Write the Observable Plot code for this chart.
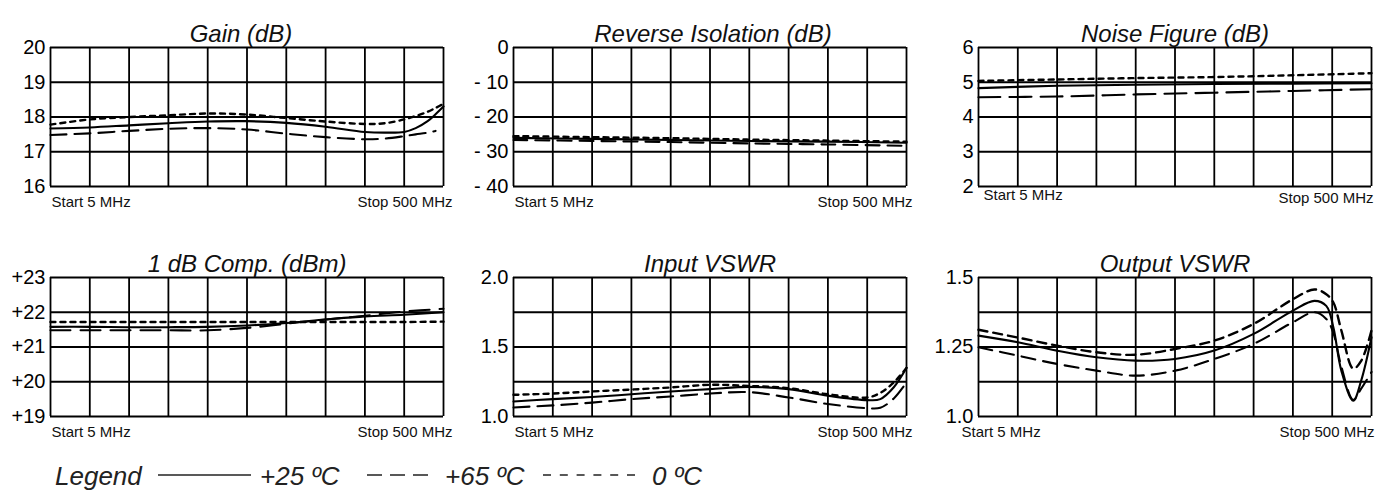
<!DOCTYPE html>
<html><head><meta charset="utf-8">
<script src="https://cdn.jsdelivr.net/npm/d3@7"></script>
<script src="https://cdn.jsdelivr.net/npm/@observablehq/plot@0.6"></script>
<style>
body{margin:0;background:#fff;width:1389px;height:491px;position:relative;overflow:hidden;font-family:"Liberation Sans",Arial,sans-serif;}
.panel{position:absolute;}
</style></head><body>
<script>
// ---------- DATA ----------
const gridFreqs = [5, 54.5, 104, 153.5, 203, 252.5, 302, 351.5, 401, 450.5, 500];

// Gain (dB)
const gainFreq = [5, 54.5, 104, 153.5, 203, 252.5, 302, 351.5, 401, 426, 450.5, 465, 480, 490, 500];
const gain25 = [17.67, 17.70, 17.76, 17.82, 17.87, 17.88, 17.83, 17.72, 17.57, 17.55, 17.57, 17.68, 17.88, 18.08, 18.30];
const gain0  = [17.78, 17.93, 18.00, 18.05, 18.10, 18.07, 17.97, 17.87, 17.80, 17.82, 17.93, 18.03, 18.15, 18.26, 18.38];
const gain65 = [17.48, 17.53, 17.60, 17.66, 17.68, 17.64, 17.52, 17.42, 17.36, 17.38, 17.45, 17.50, 17.55, 17.60, null];
const gainTicks = [16, 17, 18, 19, 20];

// Reverse Isolation (dB)
const isoFreq = [5, 104, 203, 302, 401, 500];
const iso25 = [-26.0, -26.3, -26.6, -26.9, -27.1, -27.4];
const iso0  = [-25.5, -25.8, -26.1, -26.5, -26.8, -27.1];
const iso65 = [-26.6, -26.9, -27.2, -27.6, -27.9, -28.3];
const isoTicks = [-40, -30, -20, -10, 0];
const isoLabels = ["- 40", "- 30", "- 20", "- 10", "0"];

// Noise Figure (dB)
const nfFreq = [5, 104, 203, 302, 401, 500];
const nf25 = [4.83, 4.90, 4.93, 4.95, 4.96, 4.97];
const nf0  = [5.04, 5.08, 5.12, 5.15, 5.20, 5.26];
const nf65 = [4.57, 4.59, 4.65, 4.70, 4.75, 4.80];
const nfTicks = [2, 3, 4, 5, 6];

// 1 dB Comp. (dBm)
const compFreq = [5, 54.5, 104, 153.5, 203, 252.5, 302, 351.5, 401, 450.5, 500];
const comp25 = [21.58, 21.58, 21.57, 21.57, 21.58, 21.62, 21.69, 21.79, 21.88, 21.93, 22.00];
const comp0  = [21.72, 21.72, 21.72, 21.72, 21.72, 21.72, 21.72, 21.72, 21.72, 21.72, 21.73];
const comp65 = [21.48, 21.48, 21.48, 21.48, 21.48, 21.55, 21.67, 21.79, 21.90, 22.02, 22.10];
const compTicks = [19, 20, 21, 22, 23];
const compLabels = ["+19", "+20", "+21", "+22", "+23"];

// Input VSWR
const inFreq = [5, 54.5, 104, 153.5, 203, 252.5, 302, 351.5, 401, 450.5, 467, 484, 500];
const in25 = [1.108, 1.125, 1.140, 1.160, 1.180, 1.197, 1.213, 1.197, 1.150, 1.118, 1.125, 1.210, 1.350];
const in0  = [1.156, 1.165, 1.180, 1.194, 1.209, 1.228, 1.220, 1.204, 1.160, 1.137, 1.170, 1.245, 1.350];
const in65 = [1.065, 1.080, 1.100, 1.125, 1.144, 1.165, 1.175, 1.137, 1.090, 1.060, 1.063, 1.130, 1.245];
const inGrid = [1.0, 1.25, 1.5, 1.75, 2.0];
const inTicks = [1.0, 1.5, 2.0];
const inLabels = ["1.0", "1.5", "2.0"];

// Output VSWR
const outFreq = [5, 54.5, 104, 153.5, 203, 252.5, 302, 351.5, 401, 428, 443, 452, 462, 477, 487, 500];
const out25 = [1.291, 1.267, 1.237, 1.213, 1.201, 1.207, 1.237, 1.297, 1.381, 1.416, 1.398, 1.320, 1.165, 1.057, 1.129, 1.285];
const out0  = [1.312, 1.284, 1.255, 1.231, 1.222, 1.243, 1.273, 1.333, 1.422, 1.457, 1.440, 1.410, 1.310, 1.172, 1.200, 1.310];
const out65 = [1.249, 1.219, 1.189, 1.165, 1.147, 1.165, 1.207, 1.261, 1.339, 1.375, 1.351, 1.300, 1.180, 1.060, 1.100, 1.160];
const outGrid = [1.0, 1.125, 1.25, 1.375, 1.5];
const outTicks = [1.0, 1.25, 1.5];
const outLabels = ["1.0", "1.25", "1.5"];

// ---------- DRAW ----------
const FONT = '"Liberation Sans", Arial, Helvetica, sans-serif';
const pts = (f, v) => f.map((x, i) => ({f: x, v: v[i]}));

function makePanel(cfg) {
  const fmt = cfg.labels ? (d) => cfg.labels[cfg.ticks.indexOf(d)] : (d) => String(d);
  const plot = Plot.plot({
    width: cfg.width, height: 225,
    marginLeft: 50, marginRight: cfg.width - 443, marginTop: 47, marginBottom: 39,
    x: {domain: [5, 500], axis: null},
    y: {domain: [cfg.grid[0], cfg.grid[cfg.grid.length - 1]]},
    style: {fontFamily: FONT, fontSize: "20px", overflow: "visible", maxWidth: "none", background: "white", color: "black"},
    marks: [
      Plot.ruleX(gridFreqs, {stroke: "black", strokeWidth: 1.8}),
      Plot.ruleY(cfg.grid, {stroke: "black", strokeWidth: 1.8}),
      Plot.axisY(cfg.ticks, {tickSize: 0, tickPadding: 5, tickFormat: fmt, fontSize: 20, fill: "black", label: null}),
      Plot.line(pts(cfg.freq, cfg.s65), {x: "f", y: "v", curve: "catmull-rom", stroke: "black", strokeWidth: 2.1, strokeDasharray: cfg.dash65 || "16,8"}),
      Plot.line(pts(cfg.freq, cfg.s0), {x: "f", y: "v", curve: "catmull-rom", stroke: "black", strokeWidth: 2.4, strokeDasharray: cfg.dash0 || "5,5"}),
      Plot.line(pts(cfg.freq, cfg.s25), {x: "f", y: "v", curve: "catmull-rom", stroke: "black", strokeWidth: 2.1}),
      Plot.text([cfg.title], {text: d => d, frameAnchor: "top", dy: -23, dx: cfg.titleDx || 0, fontSize: 24, fontStyle: "italic", fill: "#111"}),
      Plot.text(["Start 5 MHz"], {text: d => d, frameAnchor: "bottom-left", textAnchor: "start", dx: cfg.startDx, dy: cfg.startDy, fontSize: 15, fill: "#111"}),
      Plot.text(["Stop 500 MHz"], {text: d => d, frameAnchor: "bottom-right", textAnchor: "end", dx: cfg.stopDx, dy: cfg.stopDy, fontSize: 15, fill: "#111"})
    ]
  });
  const div = document.createElement("div");
  div.className = "panel";
  div.style.left = cfg.left + "px";
  div.style.top = cfg.top + "px";
  div.style.width = cfg.width + "px";
  div.appendChild(plot);
  document.body.appendChild(div);
}

makePanel({title: "Gain (dB)", left: 0, top: 0, width: 458, freq: gainFreq, s25: gain25, s0: gain0, s65: gain65,
  grid: gainTicks, ticks: gainTicks, titleDx: -6, startDx: 1, startDy: 20, stopDx: 9, stopDy: 20});
makePanel({title: "Reverse Isolation (dB)", left: 463, top: 0, width: 458, freq: isoFreq, s25: iso25, s0: iso0, s65: iso65,
  grid: isoTicks, ticks: isoTicks, labels: isoLabels, titleDx: 3, startDx: 1, startDy: 20, stopDx: 6, stopDy: 20, dash65: "14,8"});
makePanel({title: "Noise Figure (dB)", left: 928, top: 0, width: 461, freq: nfFreq, s25: nf25, s0: nf0, s65: nf65,
  grid: nfTicks, ticks: nfTicks, startDx: 5, startDy: 13, stopDx: 2, stopDy: 16, dash65: "22,9"});
makePanel({title: "1 dB Comp. (dBm)", left: 0, top: 230, width: 458, freq: compFreq, s25: comp25, s0: comp0, s65: comp65,
  grid: compTicks, ticks: compTicks, labels: compLabels, startDx: 1, startDy: 20, stopDx: 9, stopDy: 20, dash65: "20,10"});
makePanel({title: "Input VSWR", left: 463, top: 230, width: 458, freq: inFreq, s25: in25, s0: in0, s65: in65,
  grid: inGrid, ticks: inTicks, labels: inLabels, startDx: 1, startDy: 20, stopDx: 6, stopDy: 20});
makePanel({title: "Output VSWR", left: 928, top: 230, width: 461, freq: outFreq, s25: out25, s0: out0, s65: out65,
  grid: outGrid, ticks: outTicks, labels: outLabels, startDx: -17, startDy: 20, stopDx: 3, stopDy: 20, dash0: "9,6", dash65: "14,8"});

// ---------- LEGEND ----------
const legendItems = [
  {label: "+25 ºC", lineX: [158, 251], dash: null, textX: 260},
  {label: "+65 ºC", lineX: [367, 428], dash: "15,8", textX: 445},
  {label: "0 ºC", lineX: [543, 635], dash: "8,8.8", textX: 652}
];
const NS = "http://www.w3.org/2000/svg";
const lg = document.createElementNS(NS, "svg");
lg.setAttribute("width", 800); lg.setAttribute("height", 51);
lg.style.position = "absolute"; lg.style.left = "0px"; lg.style.top = "440px"; lg.style.overflow = "visible";
function txt(x, s) {
  const t = document.createElementNS(NS, "text");
  t.setAttribute("x", x); t.setAttribute("y", 45);
  t.setAttribute("font-family", FONT); t.setAttribute("font-size", 26);
  t.setAttribute("font-style", "italic"); t.setAttribute("fill", "#222");
  t.textContent = s; lg.appendChild(t);
}
txt(55, "Legend");
for (const it of legendItems) {
  const l = document.createElementNS(NS, "line");
  l.setAttribute("x1", it.lineX[0]); l.setAttribute("x2", it.lineX[1]);
  l.setAttribute("y1", 35); l.setAttribute("y2", 35);
  l.setAttribute("stroke", "#222"); l.setAttribute("stroke-width", 1.4);
  if (it.dash) l.setAttribute("stroke-dasharray", it.dash);
  lg.appendChild(l);
  txt(it.textX, it.label);
}
document.body.appendChild(lg);
</script>
</body></html>
